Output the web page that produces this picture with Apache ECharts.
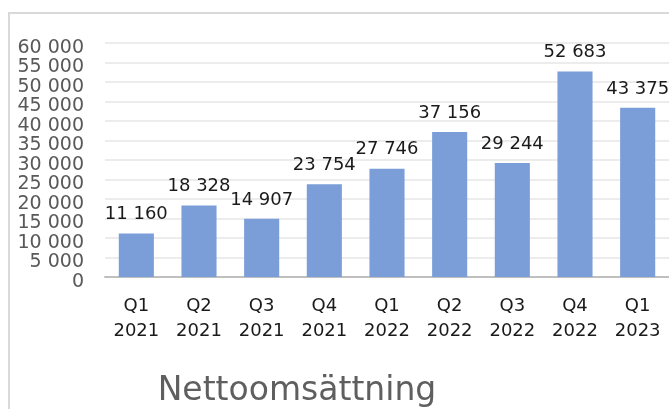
<!DOCTYPE html>
<html lang="sv">
<head>
  <meta charset="UTF-8">
  <title>Nettoomsättning</title>
  <style>
    html, body {
      margin: 0;
      padding: 0;
      background: #fff;
    }

    .chart {
      width: 669px;
      height: 409px;
    }
  </style>
</head>
<body>
  <div class="chart" id="barChart"></div>

  <script src="https://cdn.jsdelivr.net/npm/echarts@6/dist/echarts.min.js"></script>
  <script>
    // data
    const quarters = ['Q1', 'Q2', 'Q3', 'Q4', 'Q1', 'Q2', 'Q3', 'Q4', 'Q1']
    const years = ['2021', '2021', '2021', '2021', '2022', '2022', '2022', '2022', '2023']
    const sales = [11160, 18328, 14907, 23754, 27746, 37156, 29244, 52683, 43375]

    const categories = quarters.map((q, i) => q + '\n' + years[i])

    // 60000 -> "60 000"
    function spaced (n) {
      return String(n).replace(/\B(?=(\d{3})+(?!\d))/g, ' ')
    }

    const font = '"DejaVu Sans", sans-serif'
    const chart = echarts.init(document.getElementById('barChart'))

    chart.setOption({
      animation: false,
      textStyle: { fontFamily: font },
      graphic: [
        // outer frame of the chart area
        {
          type: 'rect',
          shape: { x: 9, y: 13, width: 700, height: 430 },
          style: { fill: 'none', stroke: '#d9d9d9', lineWidth: 2 },
          silent: true,
          z: -1
        },
        // chart title, sits below the plot
        {
          type: 'text',
          x: 297,
          y: 375,
          style: {
            text: 'Nettoomsättning',
            font: '33px ' + font,
            fill: '#5f5f5f',
            textAlign: 'center',
            textVerticalAlign: 'top'
          }
        }
      ],
      grid: {
        left: 105,
        right: -1,
        top: 43,
        height: 234
      },
      xAxis: {
        type: 'category',
        data: categories,
        axisTick: { show: false },
        axisLine: { lineStyle: { color: '#bfbfbf', width: 2 } },
        axisLabel: {
          margin: 17,
          fontSize: 18,
          lineHeight: 25,
          color: '#1a1a1a',
          interval: 0
        }
      },
      yAxis: {
        type: 'value',
        min: 0,
        max: 60000,
        interval: 5000,
        axisLine: { show: false },
        axisTick: { show: false },
        splitLine: { lineStyle: { color: '#ececec', width: 2 } },
        axisLabel: {
          margin: 21,
          fontSize: 19,
          color: '#595959',
          // labels sit a little below their grid lines
          verticalAlign: 'top',
          lineHeight: 10,
          formatter: v => spaced(v)
        }
      },
      series: [{
        type: 'bar',
        data: sales,
        barWidth: '56%',
        itemStyle: { color: '#7b9ed8' },
        label: {
          show: true,
          position: 'top',
          distance: 10,
          fontSize: 18,
          color: '#1a1a1a',
          formatter: p => spaced(p.value)
        }
      }]
    })
  </script>
</body>
</html>
